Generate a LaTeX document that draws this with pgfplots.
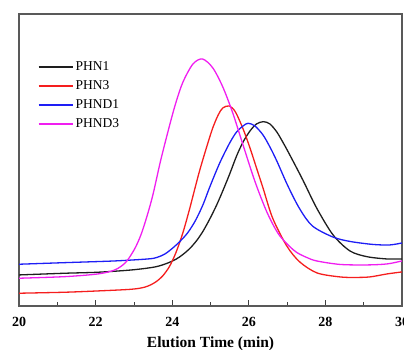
\documentclass[border=0pt]{standalone}
\usepackage{pgfplots}
\pgfplotsset{compat=1.18}
\usepackage{fontspec}
\setmainfont{Liberation Serif}
\definecolor{cblk}{RGB}{30,30,30}
\definecolor{cred}{RGB}{245,30,30}
\definecolor{cblu}{RGB}{30,30,245}
\definecolor{cmag}{RGB}{240,30,240}
\begin{document}
\begin{tikzpicture}
\begin{axis}[
  scale only axis,
  width=383pt, height=292pt,
  xmin=20, xmax=30, ymin=44, ymax=336,
  xtick={20,22,...,30},
  minor x tick num=1,
  ytick=\empty,
  xtick pos=bottom,
  tick align=inside,
  major tick length=6pt,
  minor tick length=4pt,
  tick style={line width=0.9pt, color=black!75},
  axis line style={line width=1.2pt, color=black!65},
  /pgf/number format/assume math mode=true,
  ticklabel style={font=\fontsize{14}{16}\selectfont\bfseries},
  xticklabel style={yshift=-8pt},
  xlabel={Elution Time (min)},
  xlabel style={font=\fontsize{15.5}{17}\selectfont\bfseries, yshift=-3pt},
  legend style={at={(0.045,0.853)}, anchor=north west, draw=none, fill=none,
    font=\fontsize{13.5}{15}\selectfont, row sep=2pt, inner sep=1pt,
    nodes={text height=10pt, text depth=3pt}},
  legend cell align=left,
  legend image code/.code={\draw[#1, line width=2pt] (0pt,0pt) -- (34pt,0pt);},
]
\addplot[color=cblk, line width=1.3pt, smooth] coordinates {
(20,75) (21.20,76.7) (22.06,77.7) (22.94,80) (23.55,83) (23.89,87) (24.11,91) (24.28,95.5) (24.46,101.5) (24.64,109.5) (24.80,118.5) (24.98,131) (25.16,145) (25.33,160) (25.51,177) (25.68,194) (25.85,208) (26.03,219) (26.20,226) (26.38,228.3) (26.55,226) (26.73,218) (26.90,207) (27.07,195) (27.41,170) (27.77,142) (28.20,115) (28.64,99) (29.08,93.3) (29.60,91) (30,91)};
\addlegendentry{PHN1}
\addplot[color=cred, line width=1.3pt, smooth] coordinates {
(20,56.7) (21.20,57.7) (22.06,59) (22.94,60.7) (23.30,63) (23.55,67.5) (23.75,74) (23.92,83) (24.06,94) (24.18,106) (24.30,120) (24.46,142) (24.72,180) (25.03,219) (25.20,235) (25.32,242) (25.49,244) (25.65,238) (25.85,221) (26.03,202) (26.20,182) (26.37,162) (26.62,132) (26.99,104) (27.33,88) (27.78,77) (28.38,73) (28.77,72.5) (29.16,73) (29.61,76) (30,78)};
\addlegendentry{PHN3}
\addplot[color=cblu, line width=1.3pt, smooth] coordinates {
(20,85.7) (21.20,87.3) (22.50,89) (23.37,91) (23.60,92.5) (23.81,96) (24.00,101.5) (24.20,108.5) (24.40,117) (24.60,129) (24.80,145) (24.98,163) (25.24,187) (25.50,207) (25.68,218) (25.85,224) (25.98,226.7) (26.16,224) (26.37,215) (26.55,203) (26.73,189) (27.02,164) (27.33,141) (27.66,124) (28.19,113) (28.64,108.5) (29.24,105.5) (29.68,105) (30,107)};
\addlegendentry{PHND1}
\addplot[color=cmag, line width=1.3pt, smooth] coordinates {
(20,71.7) (21.20,73.3) (22.06,76) (22.50,80) (22.77,87) (22.94,96) (23.07,105) (23.20,117) (23.35,135) (23.50,156) (23.70,190) (23.94,226) (24.10,248) (24.28,268) (24.54,286) (24.79,291) (25.06,282) (25.32,263) (25.58,237) (25.84,206) (26.11,174) (26.29,155) (26.47,138) (26.65,124) (26.81,114) (27.05,104) (27.25,97.5) (27.51,92.5) (27.77,89) (28.38,85.5) (29.08,85) (29.61,86) (30,89)};
\addlegendentry{PHND3}
\end{axis}
\pgfresetboundingbox
\path ([xshift=-19.1pt,yshift=-44pt]current axis.south west) rectangle ([xshift=2pt,yshift=14pt]current axis.north east);
\end{tikzpicture}
\end{document}
